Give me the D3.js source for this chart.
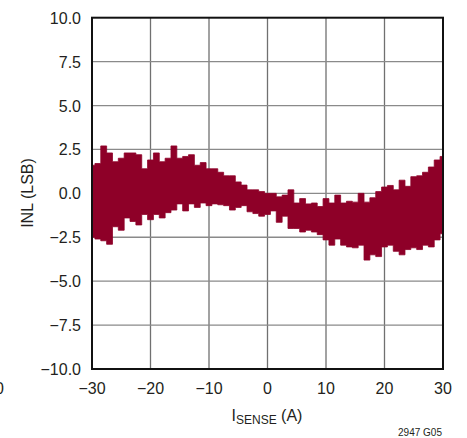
<!DOCTYPE html>
<html><head><meta charset="utf-8">
<script src="https://cdn.jsdelivr.net/npm/d3@7"></script>
<style>
html,body{margin:0;padding:0;background:#fff;}
text{font-family:"Liberation Sans",Arial,sans-serif;fill:#231f20;}
</style></head>
<body>
<svg id="c" width="467" height="438"></svg>
<script>
const currents = [-30,-29,-28,-27,-26,-25,-24,-23,-22,-21,-20,-19,-18,-17,-16,-15,-14,-13,-12,-11,-10,-9,-8,-7,-6,-5,-4,-3,-2,-1,0,1,2,3,4,5,6,7,8,9,10,11,12,13,14,15,16,17,18,19,20,21,22,23,24,25,26,27,28,29,30];
const inlMax = [1.6,1.7,2.7,2.3,1.8,2.0,2.3,2.3,2.2,1.4,1.9,2.3,1.8,2.0,2.7,2.0,2.1,2.2,1.6,1.75,1.4,1.4,1.2,1.0,1.0,0.65,0.47,0.2,0.2,0.1,0.0,0.0,-0.2,-0.1,0.2,-0.55,-0.3,-0.6,-0.55,-0.75,-0.3,-0.55,-0.1,-0.55,-0.45,-0.5,0.0,-0.5,-0.25,0.1,0.36,0.45,0.2,0.75,0.4,0.95,1.0,1.2,1.5,1.9,2.1];
const inlMin = [-2.5,-2.6,-2.7,-2.9,-1.9,-2.1,-1.4,-1.6,-1.8,-1.2,-1.5,-1.2,-1.4,-1.1,-0.95,-0.6,-1.0,-0.6,-0.8,-0.55,-0.7,-0.6,-0.65,-0.7,-0.95,-0.8,-0.7,-1.05,-1.15,-1.3,-1.2,-1.0,-1.65,-1.3,-2.0,-2.0,-2.2,-2.1,-2.2,-2.35,-2.65,-2.95,-2.6,-2.95,-3.05,-3.1,-2.95,-3.8,-3.5,-3.6,-3.05,-2.95,-3.3,-3.5,-3.2,-3.1,-3.2,-2.95,-3.05,-2.65,-2.3];
const xTicks = [-30,-20,-10,0,10,20,30];
const yTicks = [-10,-7.5,-5,-2.5,0,2.5,5,7.5,10];

const svg = d3.select("#c");
const L=92, R=443, T=17.7, B=369;
const x = d3.scaleLinear().domain([-30,30]).range([L,R]);
const y = d3.scaleLinear().domain([-10,10]).range([B,T]);

// grid
const g = svg.append("g");
g.selectAll(".vg").data(xTicks.slice(1,-1)).enter().append("line")
  .attr("x1",d=>x(d)).attr("x2",d=>x(d)).attr("y1",T).attr("y2",B)
  .attr("stroke","#707070").attr("stroke-width",1.3);
g.selectAll(".hg").data(yTicks.slice(1,-1)).enter().append("line")
  .attr("x1",L).attr("x2",R).attr("y1",d=>y(d)).attr("y2",d=>y(d))
  .attr("stroke","#8a8a8a").attr("stroke-width",1.3);

// data band
const area = d3.area()
  .x(d=>x(d))
  .y0((d,i)=>y(inlMin[i]))
  .y1((d,i)=>y(inlMax[i]))
  .curve(d3.curveStep);
svg.append("path").datum(currents).attr("d",area)
  .attr("fill","#8e0028").attr("stroke","#8e0028").attr("stroke-width",0.8);

// frame
svg.append("rect").attr("x",L).attr("y",T).attr("width",R-L).attr("height",B-T)
  .attr("fill","none").attr("stroke","#111").attr("stroke-width",2);

// tick labels
const fy = d3.format(".1f"), fx = d3.format("d");
svg.selectAll(".yl").data(yTicks).enter().append("text")
  .attr("x",81).attr("y",d=>y(d)+6).attr("text-anchor","end")
  .attr("font-size",16).text(d=>fy(d));
svg.selectAll(".xl").data(xTicks).enter().append("text")
  .attr("x",d=>x(d)).attr("y",394).attr("text-anchor","middle")
  .attr("font-size",16).text(d=>fx(d));

// clipped neighbour label (cut off in the reference too)
svg.append("text").attr("x",-5).attr("y",394).attr("font-size",16).text("0");

// axis titles
const xt = svg.append("text").attr("x",267).attr("y",421).attr("text-anchor","middle").attr("font-size",16);
xt.append("tspan").text("I");
xt.append("tspan").attr("font-size",12).attr("dy",3).text("SENSE");
xt.append("tspan").attr("dy",-3).text(" (A)");
svg.append("text").attr("transform","translate(33,193) rotate(-90)")
  .attr("text-anchor","middle").attr("font-size",16).text("INL (LSB)");
svg.append("text").attr("x",442).attr("y",436).attr("text-anchor","end")
  .attr("font-size",10).text("2947 G05");
</script>
</body></html>
